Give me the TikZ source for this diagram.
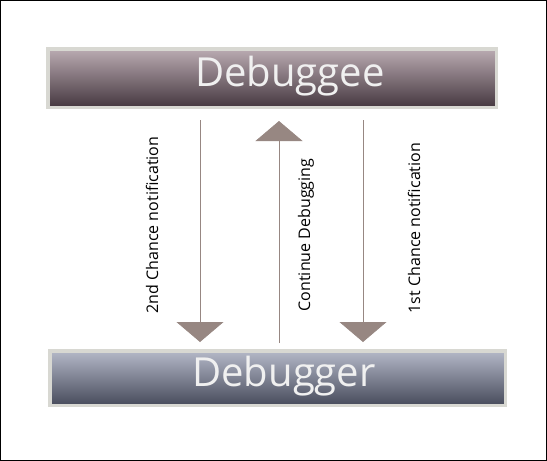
\documentclass[tikz,border=0pt]{standalone}
\usepackage{fontspec}
\setmainfont{Open Sans}
\usetikzlibrary{arrows.meta}
\definecolor{eetop}{HTML}{BAABB2}
\definecolor{eebot}{HTML}{463840}
\definecolor{ertop}{HTML}{B5B9C8}
\definecolor{erbot}{HTML}{474B5B}
\definecolor{rim}{HTML}{D8D8D2}
\definecolor{flowcol}{HTML}{978782}
\tikzset{
  box/.style={draw=rim, line width=3.5pt, inner sep=0pt},
  title/.style={anchor=base, text=white!88!gray,
    font=\fontsize{40}{40}\selectfont, inner sep=0pt},
  flow/.style={draw=flowcol, line width=0.8pt,
    -{Triangle[width=47pt,length=20pt,fill=flowcol]}},
  lab/.style={rotate=90, font=\fontsize{16}{17}\selectfont, inner sep=0pt}
}
\begin{document}
\begin{tikzpicture}[x=1pt,y=-1pt]
\useasboundingbox (0,0) rectangle (547,461);
\draw (0.5,0.5) rectangle (546.5,460.5);
\node (debuggee) [box, top color=eetop, bottom color=eebot,
  minimum width=448.5pt, minimum height=58.5pt] at (272,78) {};
\node (debugger) [box, top color=ertop, bottom color=erbot,
  minimum width=455.5pt, minimum height=54.5pt] at (277.5,378) {};
\node (eetitle) [title] at (290,86) {Debuggee};
\node (ertitle) [title] at (284,386) {Debugger};
\coordinate (second) at (200,0);
\coordinate (cont) at (279,0);
\coordinate (first) at (363,0);
\draw [flow, shorten <=11pt, shorten >=7pt] (debuggee.south -| second) -- (debugger.north -| second);
\draw [flow, shorten <=6pt, shorten >=12pt] (debugger.north -| cont) -- (debuggee.south -| cont);
\draw [flow, shorten <=11pt, shorten >=7pt] (debuggee.south -| first) -- (debugger.north -| first);
\node (lsecond) [lab] at (152,225) {2nd Chance notification};
\node (lcont) [lab] at (306,235) {Continue Debugging};
\node (lfirst) [lab] at (414,228) {1st Chance notification};
\end{tikzpicture}
\end{document}
